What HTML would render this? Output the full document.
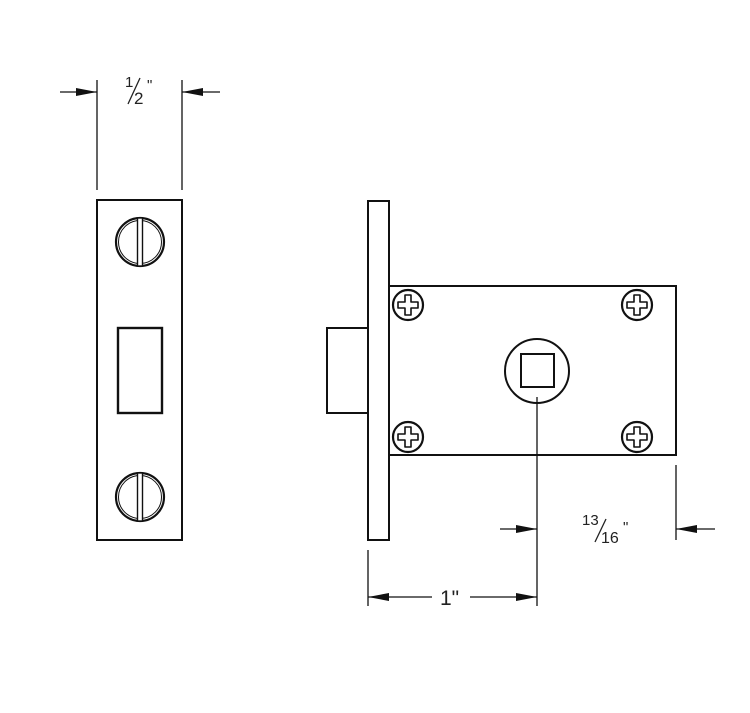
<!DOCTYPE html>
<html><head><meta charset="utf-8"><style>
html,body{margin:0;padding:0;background:#fff;}
svg{display:block;}
text{font-family:"Liberation Sans",sans-serif;fill:#222;}
</style></head><body>
<svg width="750" height="713" viewBox="0 0 750 713" xmlns="http://www.w3.org/2000/svg">
<defs>
<g id="ph">
<circle r="15" fill="#fff" stroke="#111" stroke-width="2.2"/>
<path d="M-3,-10 h6 v7 h7 v6 h-7 v7 h-6 v-7 h-7 v-6 h7 z" fill="none" stroke="#111" stroke-width="1.6" stroke-linejoin="round"/>
</g>
<g id="sl">
<circle r="24" fill="#fff" stroke="#111" stroke-width="2.2"/>
<circle r="21.5" fill="none" stroke="#111" stroke-width="1"/>
<rect x="-2.5" y="-24" width="5" height="48" fill="#fff" stroke="#111" stroke-width="1.4"/>
</g>
</defs>
<!-- left plate -->
<rect x="97" y="200" width="85" height="340" fill="#fff" stroke="#111" stroke-width="2"/>
<rect x="118" y="328" width="44" height="85" fill="#fff" stroke="#111" stroke-width="2.4"/>
<use href="#sl" x="140" y="242"/>
<use href="#sl" x="140" y="497"/>
<!-- right side -->
<rect x="327" y="328" width="41" height="85" fill="#fff" stroke="#111" stroke-width="2"/>
<rect x="368" y="201" width="21" height="339" fill="#fff" stroke="#111" stroke-width="2"/>
<rect x="389" y="286" width="287" height="169" fill="#fff" stroke="#111" stroke-width="2"/>
<use href="#ph" x="408" y="305"/>
<use href="#ph" x="637" y="305"/>
<use href="#ph" x="408" y="437"/>
<use href="#ph" x="637" y="437"/>
<circle cx="537" cy="371" r="32" fill="#fff" stroke="#111" stroke-width="2"/>
<rect x="521" y="354" width="33" height="33" fill="none" stroke="#111" stroke-width="2"/>
<g fill="none" stroke="#111" stroke-width="1.3">
<!-- top dimension -->
<line x1="97" y1="80" x2="97" y2="190"/>
<line x1="182" y1="80" x2="182" y2="190"/>
<line x1="60" y1="92" x2="97" y2="92"/>
<line x1="182" y1="92" x2="220" y2="92"/>
<!-- bottom dims -->
<line x1="368" y1="550" x2="368" y2="606"/>
<line x1="537" y1="397" x2="537" y2="606"/>
<line x1="676" y1="465" x2="676" y2="540"/>
<line x1="368" y1="597" x2="432" y2="597"/>
<line x1="470" y1="597" x2="537" y2="597"/>
<line x1="500" y1="529" x2="537" y2="529"/>
<line x1="676" y1="529" x2="715" y2="529"/>
</g>
<g fill="#111">
<polygon points="97,92 76,88 76,96"/>
<polygon points="182,92 203,88 203,96"/>
<polygon points="368,597 389,593 389,601"/>
<polygon points="537,597 516,593 516,601"/>
<polygon points="537,529 516,525 516,533"/>
<polygon points="676,529 697,525 697,533"/>
</g>
<!-- text -->
<text x="125" y="87" font-size="15">1</text>
<line x1="128" y1="104" x2="140" y2="78" stroke="#222" stroke-width="1.3"/>
<text x="134" y="104" font-size="17">2</text>
<text x="147" y="90" font-size="15">"</text>
<text x="440" y="605" font-size="21">1"</text>
<text x="582" y="525" font-size="15">13</text>
<line x1="595" y1="542" x2="606" y2="519" stroke="#222" stroke-width="1.3"/>
<text x="601" y="543" font-size="16">16</text>
<text x="623" y="532" font-size="15">"</text>
</svg>
</body></html>
